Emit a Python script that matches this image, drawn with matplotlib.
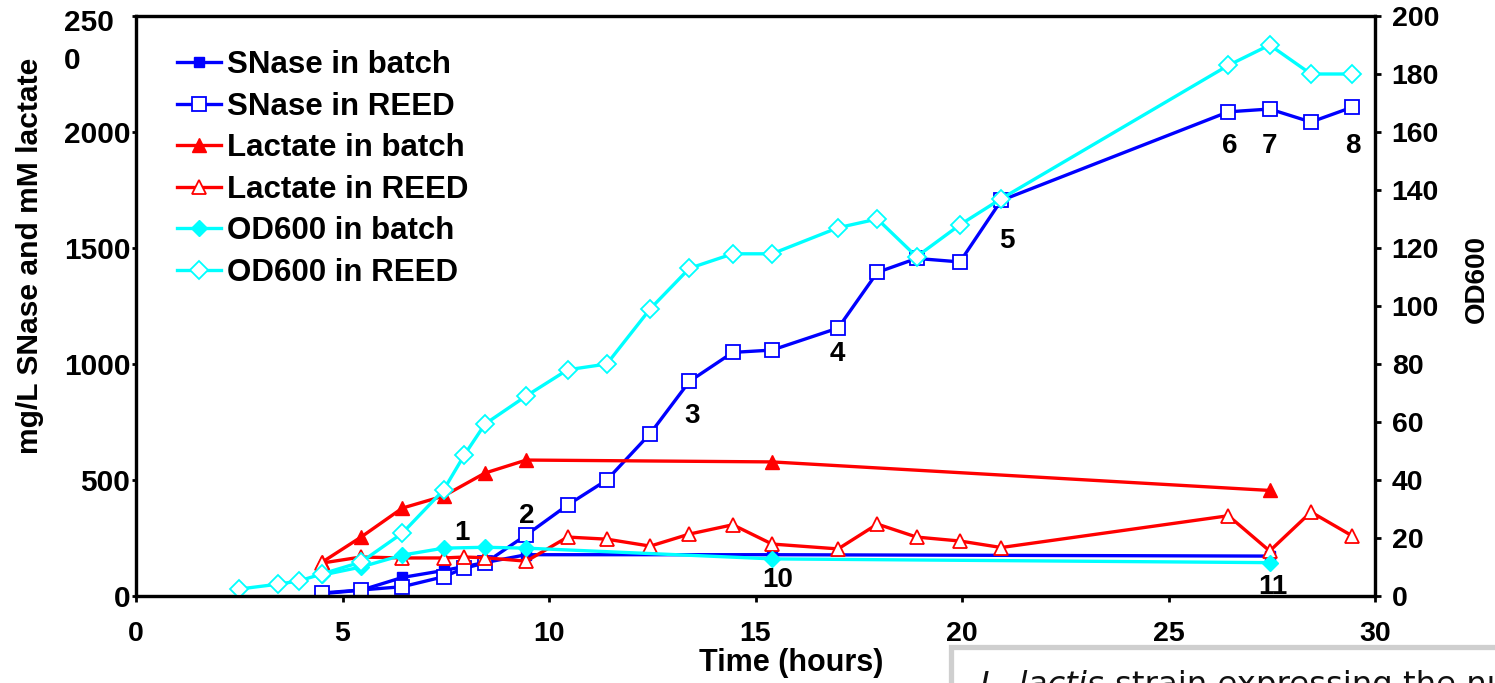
import matplotlib
matplotlib.use("Agg")
import matplotlib.pyplot as plt
from matplotlib.patches import Rectangle

plt.rcParams['font.family'] = ['Liberation Sans', 'DejaVu Sans']

# ---------------- data ----------------
t_batch_snase = [4.5, 5.45, 6.45, 7.45, 9.45, 15.4, 27.45]
snase_batch = [10, 25, 80, 110, 178, 178, 172]

t_reed = [4.5, 5.45, 6.45, 7.45, 7.95, 8.45, 9.45, 10.45, 11.4, 12.45, 13.4,
          14.45, 15.4, 17.0, 17.95, 18.9, 19.95, 20.95, 26.45, 27.45, 28.45, 29.45]
snase_reed = [13, 26, 40, 83, 120, 142, 263, 392, 500, 700, 925,
              1050, 1060, 1155, 1395, 1455, 1440, 1705, 2087, 2099, 2043, 2107]

t_batch = [4.5, 5.45, 6.45, 7.45, 8.45, 9.45, 15.4, 27.45]
lactate_batch = [145, 254, 379, 431, 530, 586, 578, 455]
lactate_reed = [142, 168, 164, 164, 168, 165, 150, 254, 245, 215, 267,
                307, 224, 203, 310, 254, 237, 209, 346, 194, 362, 259]

od_batch = [7.2, 10, 14.1, 16.5, 16.8, 16.5, 12.8, 11.5]
t_od_reed = [2.5, 3.45, 3.95] + t_reed
od_reed = [2.4, 4.1, 5.2, 7.6, 11.7, 21.7, 36.6, 48.6, 59.3, 69, 78, 80, 99,
           113, 118, 118, 127, 130, 117, 128, 137, 183, 190, 180, 180]

note_labels = ['1', '2', '3', '4', '5', '6', '7', '8', '10', '11']
note_x = [7.90, 9.45, 13.47, 16.99, 21.08, 26.48, 27.45, 29.46, 15.53, 27.53]
note_y = [272, 345, 776, 1043, 1530, 1940, 1940, 1940, 69, 39]

x_ticks = [0, 5, 10, 15, 20, 25, 30]
left_ticks = [0, 500, 1000, 1500, 2000, 2500]
left_ticklabels = ['0', '500', '1000', '1500', '2000', '']
right_ticks = list(range(0, 201, 20))

# ---------------- figure ----------------
W, H = 1495, 683
fig = plt.figure(figsize=(W / 100, H / 100), dpi=100)
ax = fig.add_axes([136 / W, 1 - 596 / H, (1375 - 136) / W, (596 - 16) / H])
ax2 = ax.twinx()

BLUE = '#0000FF'
RED = '#FF0000'
CYAN = '#00FFFF'
lw = 2.4

h1, = ax.plot(t_batch_snase, snase_batch, '-s', color=BLUE, lw=lw, ms=7,
              mfc=BLUE, mec=BLUE, label='SNase in batch')
h2, = ax.plot(t_reed, snase_reed, '-s', color=BLUE, lw=lw, ms=10,
              mfc='white', mec=BLUE, mew=1.3, label='SNase in REED')
h3, = ax.plot(t_batch, lactate_batch, '-^', color=RED, lw=lw, ms=10,
              mfc=RED, mec=RED, label='Lactate in batch')
h4, = ax.plot(t_reed, lactate_reed, '-^', color=RED, lw=lw, ms=10,
              mfc='white', mec=RED, mew=1.3, label='Lactate in REED')
h5, = ax2.plot(t_batch, od_batch, '-D', color=CYAN, lw=lw, ms=8,
               mfc=CYAN, mec=CYAN, label='OD600 in batch')
h6, = ax2.plot(t_od_reed, od_reed, '-D', color=CYAN, lw=lw, ms=9,
               mfc='white', mec=CYAN, mew=1.3, label='OD600 in REED')

ax.set_xlim(0, 30)
ax.set_ylim(0, 2500)
ax2.set_ylim(0, 200)

ax.set_xticks(x_ticks)
ax.set_xticklabels([str(v) for v in x_ticks])
ax.set_yticks(left_ticks)
ax.set_yticklabels(left_ticklabels)
ax2.set_yticks(right_ticks)

for a in (ax, ax2):
    for s in a.spines.values():
        s.set_linewidth(2.3)
    a.tick_params(direction='out', length=4, width=2, labelsize=20.5, pad=8)
    for lab in a.get_xticklabels() + a.get_yticklabels():
        lab.set_fontweight('bold')
ax.tick_params(axis='x', pad=14)
ax.tick_params(axis='y', labelsize=21.5, pad=1, length=3)

# wrapped "2500" label
ax.text(-22 / 1239, 2530, '250\n0', transform=ax.get_yaxis_transform(),
        ha='right', va='top', multialignment='left', fontsize=21.5,
        fontweight='bold', linespacing=1.45)

for lab, x, y in zip(note_labels, note_x, note_y):
    ax.text(x, y, lab, ha='center', va='center', fontsize=20, fontweight='bold')

leg = ax2.legend(handles=[h1, h2, h3, h4, h5, h6], loc='upper left',
                 bbox_to_anchor=(177 / W, 1 - 50 / H),
                 bbox_transform=fig.transFigure, frameon=False,
                 borderpad=0, borderaxespad=0, handlelength=1.4,
                 handletextpad=0.2, labelspacing=0.37,
                 prop={'size': 22.5, 'weight': 'bold'})

fig.text(30 / W, 1 - 256 / H, 'mg/L SNase and mM lactate', rotation=90,
         ha='center', va='center', fontsize=21.6, fontweight='bold')
fig.text(1477 / W, 1 - 279 / H, 'OD600', rotation=90,
         ha='center', va='center', fontsize=20, fontweight='bold')
fig.text(791 / W, 1 - 663 / H, 'Time (hours)', ha='center', va='center',
         fontsize=22, fontweight='bold')

# cropped caption box at bottom right
fig.patches.append(Rectangle((951 / W, -0.2), (W - 951 + 20) / W, 0.2 + 1 - 647 / H,
                             transform=fig.transFigure, facecolor='white',
                             edgecolor='#cfcfcf', lw=3.8, zorder=5))
fig.text(980 / W, 1 - 694 / H, 'L. lactis', ha='left', va='baseline',
         fontsize=23.3, style='italic', family='DejaVu Sans', color='#111111', zorder=6)
fig.text(1115 / W, 1 - 694 / H, 'strain expressing the nuclease', ha='left',
         va='baseline', fontsize=23.3, family='DejaVu Sans', color='#111111', zorder=6)

fig.savefig('out.png', dpi=100)
